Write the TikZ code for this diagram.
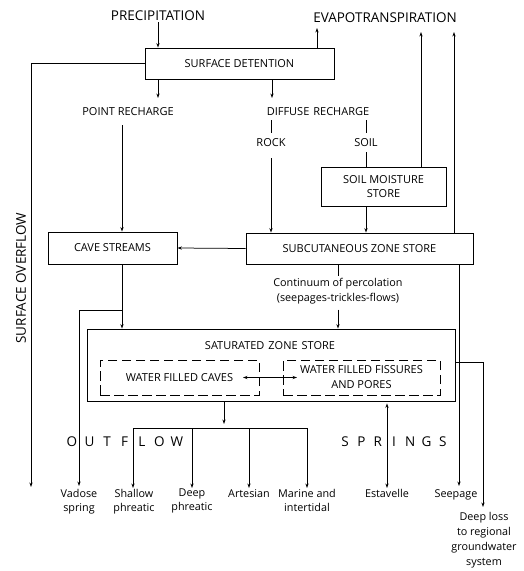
\documentclass[tikz,border=0pt]{standalone}
\usepackage{fontspec}
\setmainfont{Open Sans}
\usetikzlibrary{arrows.meta,calc}
\newcommand{\spc}[2]{\makebox[#1]{#2}}
\begin{document}
\begin{tikzpicture}[x=1pt,y=-1pt,
  box/.style={draw,line width=0.9pt,inner sep=0pt,align=center,font=\fontsize{11}{14}\selectfont},
  dbox/.style={draw,line width=0.9pt,dash pattern=on 9.5pt off 4.5pt,inner sep=0pt,align=center,font=\fontsize{11}{15}\selectfont},
  lab/.style={font=\fontsize{11}{14}\selectfont,inner sep=1pt,align=center},
  big/.style={font=\fontsize{13.5}{15}\selectfont,inner sep=1pt},
  sm/.style={font=\fontsize{10.8}{14}\selectfont,inner sep=1pt,align=center},
  smb/.style={font=\fontsize{10.8}{15}\selectfont,inner sep=1pt,align=center},
  arr/.style={-{Stealth[length=4.5pt,width=3.2pt]},line width=0.75pt},
  darr/.style={{Stealth[length=4.5pt,width=3.2pt]}-{Stealth[length=4.5pt,width=3.2pt]},line width=0.75pt},
  ln/.style={line width=0.75pt}]
\useasboundingbox (0,0) rectangle (524,571);
% texts
\node[big] (prec) at (158,16) {PRECIPITATION};
\node[big] (evap) at (385,18) {EVAPOTRANSPIRATION};
\node[box,minimum width=189,minimum height=31] (sd) at (239.5,63.5) {SURFACE DETENTION};
\node[lab] (pr) at (128,112) {POINT RECHARGE};
\node[lab] (dr) at (318,112) {DIFFUSE\hspace{4pt}RECHARGE};
\node[lab] (rock) at (271,143) {ROCK};
\node[lab] (soil) at (366,143) {SOIL};
\node[box,minimum width=125,minimum height=39] (sms) at (383.5,186.5) {SOIL MOISTURE\\STORE};
\node[box,minimum width=129,minimum height=32] (cs) at (112.5,248) {CAVE STREAMS};
\node[box,minimum width=227,minimum height=31] (sub) at (359.5,248.5) {SUBCUTANEOUS ZONE STORE};
\node[smb] (perc) at (338,291.5) {Continuum of percolation\\(seepages-trickles-flows)};
\node[box,minimum width=368,minimum height=72] (sat) at (271,365) {};
\node[lab] (satl) at (270,346) {SATURATED\hspace{4pt}ZONE\hspace{4pt}STORE};
\node[dbox,minimum width=159,minimum height=35] (wfc) at (179.5,377.5) {WATER FILLED CAVES};
\node[dbox,minimum width=157,minimum height=35] (wff) at (361.5,377.5) {WATER FILLED FISSURES\\AND PORES};
\node[big,rotate=90] (sol) at (21,278) {SURFACE OVERFLOW};
\node[big] (out) at (124.5,442) {\spc{17.5pt}{O}\spc{17.5pt}{U}\spc{17.5pt}{T}\spc{17.5pt}{F}\spc{17.5pt}{L}\spc{17.5pt}{O}\spc{17.5pt}{W}};
\node[big] (spr) at (394,442) {\spc{16.3pt}{S}\spc{16.3pt}{P}\spc{16.3pt}{R}\spc{16.3pt}{I}\spc{16.3pt}{N}\spc{16.3pt}{G}\spc{16.3pt}{S}};
% bottom labels
\node[sm,anchor=north] (vad) at (79,488) {Vadose\\spring};
\node[sm,anchor=north] (sha) at (134,488) {Shallow\\phreatic};
\node[sm,anchor=north] (dee) at (192,488) {Deep\\phreatic};
\node[sm,anchor=north] (art) at (249,488) {Artesian};
\node[sm,anchor=north] (mar) at (307,488) {Marine and\\intertidal};
\node[sm,anchor=north] (est) at (387,488) {Estavelle};
\node[sm,anchor=north] (see) at (456,488) {Seepage};
\node[smb,anchor=north] (dl) at (484,511) {Deep loss\\to regional\\groundwater\\system};
% coordinates
\coordinate (e0) at (317,28);
\coordinate (e1) at (421,32);
\coordinate (e2) at (454,32);
\coordinate (a1) at (158,98);
\coordinate (a2) at (272,98);
\coordinate (c1) at (122,125);
\coordinate (so) at (31,487);
\coordinate (vj) at (122,310);
\coordinate (vs) at (79,486);
\coordinate (bar) at (224,428);
\coordinate (o1) at (133,428);
\coordinate (o2) at (192,428);
\coordinate (o3) at (249,428);
\coordinate (o4) at (307,428);
\coordinate (sp) at (459,486);
\coordinate (dlc) at (483,507);
\coordinate (ca) at (243,377.5);
\coordinate (cb) at (297,377.5);
% connectors
\draw[arr] (prec.south) -- (prec.south |- sd.north);
\draw[arr] (sd.north -| e0) -- (e0);
\draw[arr] (sms.north -| e1) -- (e1);
\draw[arr] (sub.north -| e2) -- (e2);
\draw[arr] (sd.south -| a1) -- (a1);
\draw[arr] (sd.south -| a2) -- (a2);
\draw[ln] (sd.west) -- (sd.west -| so);
\draw[arr] (sd.west -| so) -- (so);
\draw[arr] (c1) -- (cs.north -| c1);
\draw[ln,shorten <=3pt,shorten >=5pt] (dr.south -| rock) -- (rock.north);
\draw[arr,shorten <=10pt] (rock.south) -- (rock.south |- sub.north);
\draw[ln,shorten <=3pt,shorten >=5pt] (dr.south -| soil) -- (soil.north);
\draw[ln,shorten <=4pt] (soil.south) -- (soil.south |- sms.north);
\draw[arr] (sms.south -| soil) -- (sub.north -| soil);
\draw[arr] (sub.west) -- (cs.east);
\draw[arr] (cs.south -| c1) -- (sat.north -| c1);
\draw[arr] (vj) -| (vs);
\draw[ln,shorten >=1pt] (sub.south -| perc) -- (perc.north);
\draw[arr,shorten <=4pt] (perc.south) -- (sat.north -| perc);
\draw[darr] (ca) -- (cb);
\draw[arr,shorten >=4pt] (sat.south -| bar) -- (bar);
\draw[ln] (o1) -- (o4);
\draw[arr] (o1) -- (o1 |- sha.north);
\draw[arr] (o2) -- (o2 |- dee.north);
\draw[arr] (o3) -- (o3 |- art.north);
\draw[arr] (o4) -- (o4 |- mar.north);
\draw[darr,shorten <=2pt] (sat.south -| est) -- (est.north);
\draw[arr] (sub.south -| sp) -- (sp);
\draw[arr] ([yshift=3pt]sat.east) -| (dlc);
\end{tikzpicture}
\end{document}
